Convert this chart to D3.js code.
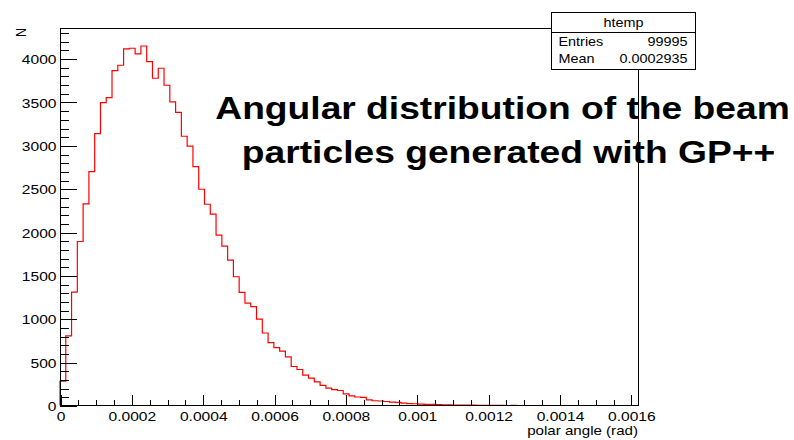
<!DOCTYPE html>
<html>
<head>
<meta charset="utf-8">
<script src="https://cdn.jsdelivr.net/npm/d3@7"></script>
<style>
  html, body { margin: 0; padding: 0; background: #fff; }
  svg { display: block; }
  text { font-family: "Liberation Sans", Arial, Helvetica, sans-serif; fill: #000; }
</style>
</head>
<body>
<svg id="chart" width="794" height="440"></svg>
<script>
// Histogram "htemp": polar angle of beam particles, 100 bins on [0, 0.00162] rad
const xMin = 0;
const xMax = 0.00162;
const nBins = 100;
const binCounts = [
  280, 803, 1307, 1891, 2325, 2697, 3135, 3493, 3551, 3862,
  3924, 4112, 4120, 4054, 4146, 3966, 3774, 3889, 3693, 3501,
  3380, 3105, 2992, 2755, 2494, 2321, 2206, 1964, 1839, 1676,
  1485, 1305, 1180, 1141, 996, 836, 726, 667, 627, 560,
  450, 415, 350, 316, 273, 231, 200, 184, 173, 135,
  112, 98, 94, 66, 55, 52, 46, 39, 36, 27,
  21, 20, 16, 12, 12, 9, 8, 7, 6, 5,
  5, 4, 3, 3, 2, 1, 1, 0, 1, 0,
  0, 0, 0, 0, 0, 0, 0, 0, 0, 0,
  0, 0, 0, 0, 0, 0, 0, 0, 0, 0
];

// Axis ticks and labels
const xMajorTicks = [0, 0.0002, 0.0004, 0.0006, 0.0008, 0.001, 0.0012, 0.0014, 0.0016];
const xTickLabels = ["0", "0.0002", "0.0004", "0.0006", "0.0008", "0.001", "0.0012", "0.0014", "0.0016"];
const xMinorStep = 0.00005;
const yMajorTicks = [0, 500, 1000, 1500, 2000, 2500, 3000, 3500, 4000];
const yTickLabels = ["0", "500", "1000", "1500", "2000", "2500", "3000", "3500", "4000"];
const yMinorStep = 100;

// Texts
const xTitle = "polar angle (rad)";
const yTitle = "N";
const titleLines = ["Angular distribution of the beam", "particles generated with GP++"];
const statsName = "htemp";
const statsRows = [["Entries", "99995"], ["Mean", "0.0002935"]];

// Layout
const frame = { left: 60, right: 638, top: 28, bottom: 405.5 };
const SX = 1.2; // horizontal glyph stretch used for all labels

const svg = d3.select("#chart");
svg.append("rect").attr("width", 794).attr("height", 440).attr("fill", "#fff");

const x = d3.scaleLinear().domain([xMin, xMax]).range([frame.left, frame.right]);
const yMaxVal = d3.max(binCounts) * 1.05;
const y = d3.scaleLinear().domain([0, yMaxVal]).range([frame.bottom, frame.top]);

// stretch text horizontally about its anchor x
function stretch(sel, sx) {
  sel.each(function () {
    const t = d3.select(this);
    const x0 = +(t.attr("x") || 0);
    t.attr("transform", `translate(${x0 * (1 - sx)},0) scale(${sx},1)`);
  });
}

// Histogram outline (step)
const binW = (xMax - xMin) / nBins;
const path = d3.path();
path.moveTo(x(xMin), y(0));
binCounts.forEach((c, i) => {
  const x0 = xMin + i * binW, x1 = x0 + binW;
  path.lineTo(x(x0), y(c));
  path.lineTo(x(x1), y(c));
});
path.lineTo(x(xMax), y(0));
svg.append("path")
  .attr("d", path.toString())
  .attr("fill", "none")
  .attr("stroke", "#ff0000")
  .attr("stroke-width", 1.2)
  .attr("stroke-linejoin", "miter");

// Frame
svg.append("rect")
  .attr("x", frame.left + 0.5).attr("y", frame.top + 0.5)
  .attr("width", frame.right - frame.left - 0.5)
  .attr("height", frame.bottom - frame.top - 0.5)
  .attr("fill", "none").attr("stroke", "#000").attr("stroke-width", 1)
  .attr("shape-rendering", "crispEdges");

// X axis: minor ticks, then major ticks with labels
const xMinor = d3.range(xMin, xMax + 1e-12, xMinorStep).filter(v => v <= xMax);
const gxMinor = svg.append("g")
  .attr("transform", `translate(0.5,${frame.bottom})`)
  .call(d3.axisBottom(x).tickValues(xMinor).tickSize(-5.5).tickSizeOuter(0).tickFormat(""));
gxMinor.select(".domain").remove();

const gx = svg.append("g")
  .attr("transform", `translate(0.5,${frame.bottom})`)
  .call(d3.axisBottom(x).tickValues(xMajorTicks).tickSize(-11).tickSizeOuter(0).tickPadding(5)
    .tickFormat((d, i) => xTickLabels[i]));
gx.select(".domain").remove();
gx.selectAll("text").attr("font-size", 13).attr("font-family", null).attr("y", 15.5).attr("dy", "0");
stretch(gx.selectAll("text"), SX);

// Y axis: minor ticks, then major ticks with labels
const yMinor = d3.range(0, yMaxVal, yMinorStep);
const gyMinor = svg.append("g")
  .attr("transform", `translate(${frame.left},0.5)`)
  .call(d3.axisLeft(y).tickValues(yMinor).tickSize(-8.5).tickSizeOuter(0).tickFormat(""));
gyMinor.select(".domain").remove();

const gy = svg.append("g")
  .attr("transform", `translate(${frame.left},0.5)`)
  .call(d3.axisLeft(y).tickValues(yMajorTicks).tickSize(-17).tickSizeOuter(0).tickPadding(3.5)
    .tickFormat((d, i) => yTickLabels[i]));
gy.select(".domain").remove();
gy.selectAll("text").attr("font-size", 13).attr("font-family", null).attr("dy", "0.35em");
stretch(gy.selectAll("text"), SX);

svg.selectAll(".tick line").attr("stroke", "#000").attr("shape-rendering", "crispEdges");

// Axis titles
svg.append("text")
  .attr("x", frame.right).attr("y", 435)
  .attr("text-anchor", "end").attr("font-size", 12.6)
  .text(xTitle)
  .call(s => stretch(s, SX));

svg.append("text")
  .attr("transform", `translate(25.5,${frame.top}) scale(${SX},1) rotate(-90)`)
  .attr("text-anchor", "end").attr("font-size", 12.6)
  .text(yTitle);

// Title
const titleCenters = [502.5, 508.5];
const titleBaselines = [119, 163.5];
titleLines.forEach((line, i) => {
  svg.append("text")
    .attr("x", titleCenters[i]).attr("y", titleBaselines[i])
    .attr("text-anchor", "middle")
    .attr("font-size", 31).attr("font-weight", "bold")
    .text(line)
    .call(s => stretch(s, SX));
});

// Statistics box
const box = { x: 551.5, y: 12.5, w: 144, h: 56.5, header: 20 };
const gs = svg.append("g");
gs.append("rect")
  .attr("x", box.x).attr("y", box.y).attr("width", box.w).attr("height", box.h)
  .attr("fill", "#fff").attr("stroke", "#000").attr("stroke-width", 1)
  .attr("shape-rendering", "crispEdges");
gs.append("line")
  .attr("x1", box.x).attr("x2", box.x + box.w)
  .attr("y1", box.y + box.header).attr("y2", box.y + box.header)
  .attr("stroke", "#000").attr("shape-rendering", "crispEdges");
gs.append("text")
  .attr("x", box.x + box.w / 2).attr("y", 27)
  .attr("text-anchor", "middle").attr("font-size", 12)
  .text(statsName).call(s => stretch(s, SX));
const rowBaselines = [45.8, 63.4];
statsRows.forEach((r, i) => {
  gs.append("text")
    .attr("x", box.x + 7).attr("y", rowBaselines[i])
    .attr("font-size", 12).text(r[0]).call(s => stretch(s, SX));
  gs.append("text")
    .attr("x", box.x + box.w - 8).attr("y", rowBaselines[i])
    .attr("text-anchor", "end").attr("font-size", 12).text(r[1]).call(s => stretch(s, SX));
});
</script>
</body>
</html>
